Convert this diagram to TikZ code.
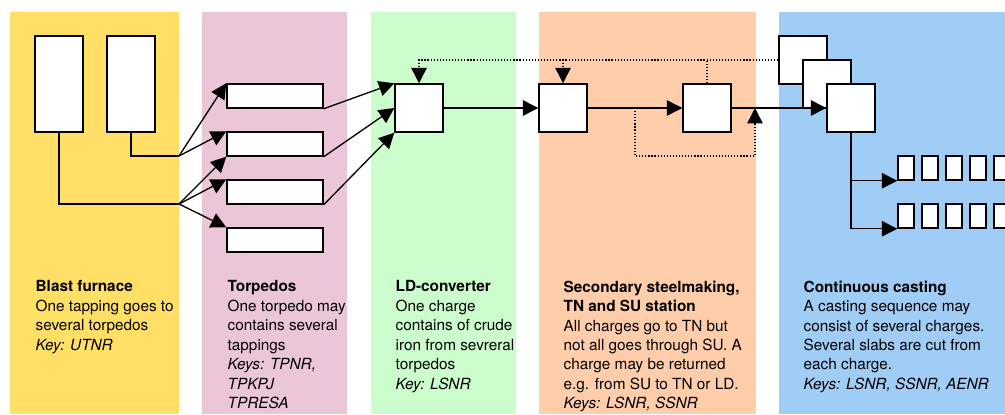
\documentclass[tikz,border=0pt]{standalone}
\usepackage{fontspec}
\setmainfont{TeX Gyre Heros}
\usetikzlibrary{arrows.meta,positioning}
\definecolor{bfyellow}{HTML}{FFDF66}
\definecolor{tppink}{HTML}{EBC6D9}
\definecolor{ldgreen}{HTML}{CCFDCC}
\definecolor{ssorange}{HTML}{FFCDAA}
\definecolor{ccblue}{HTML}{A0CDF6}
\tikzset{x=1mm, y=1mm}
\tikzset{box/.style={draw, fill=white, line width=1.1pt, inner sep=0pt},
  slab/.style={box, minimum width=12pt, minimum height=18pt},
  arr/.style={-{Triangle[length=11.5pt,width=11.5pt]}},
  dots/.style={dash pattern=on 0.9pt off 1.4pt},
  info/.style={anchor=north west, inner sep=0pt, align=left,
    font=\fontsize{11.5}{14.6}\selectfont}}

\begin{document}
\begin{tikzpicture}[x=0.75pt,y=-0.75pt,line width=1pt]
\useasboundingbox (0,0) rectangle (1005,414);
% the five columns
\fill[bfyellow] (10,12) rectangle (179,414);
\fill[tppink] (202,12) rectangle (347,414);
\fill[ldgreen] (371,12) rectangle (516,414);
\fill[ssorange] (539,12) rectangle (756,414);
\fill[ccblue] (779,12) rectangle (1005,414);
% blast furnaces
\node[box, minimum width=36pt, minimum height=72pt] (bfa) at (59,84) {};
\node[box, minimum width=36pt, minimum height=72pt] (bfb) at (131,84) {};
% torpedos
\foreach \n/\y in {a/96,b/144,c/192,d/240}
\node[box, minimum width=72pt, minimum height=18pt] (tp\n) at (275,\y) {};
% converter and stations
\node[box, minimum size=36pt] (ld) at (419,108) {};
\node[box, minimum size=36pt] (tn) at (563,108) {};
\node[box, minimum size=36pt] (su) at (707,108) {};
% casting, three charges
\node[box, minimum size=36pt] (cca) at (803,60) {};
\node[box, minimum size=36pt] (ccb) at (827,84) {};
\node[box, minimum size=36pt] (ccc) at (851,108) {};
\foreach \i/\x in {1/906,2/930,3/954,4/978,5/1002}{ % edit here for the slabs
\node[slab] (sa\i) at (\x,168) {};
\node[slab] (sb\i) at (\x,216) {};}
% tappings to torpedos
\coordinate (ja) at (179,156);
\coordinate (jb) at (179,204);
\draw (bfb.south) |- (ja);
\draw (bfa.south) |- (jb);
\draw[arr] (ja) -- (tpa.north west);
\draw[arr] (ja) -- (tpb.north west);
\draw[arr] (jb) -- (tpb.south west);
\draw[arr] (jb) -- (tpc.north west);
\draw[arr] (jb) -- (tpd.north west);
% torpedos to converter
\draw[arr] (tpa.south east) -- (ld.north west);
\draw[arr] (tpb.south east) -- (ld.west);
\draw[arr] (tpc.south east) -- (ld.south west);
% main flow
\draw[arr] (ld) -- (tn);
\draw[arr] (tn) -- (su);
\draw[arr] (su) -- (ccc);
% returns
\draw[dots,arr] (cca.west) -| (ld.north);
\draw[dots,arr] (tn.north |- cca.west) -- (tn.north);
\draw[dots] (su.north) -- (su.north |- cca.west);
\coordinate (bpa) at (635,108);
\coordinate (bpb) at (755,108);
\draw[dots,arr] (bpa) -- ++(0,48) -| (bpb);
% slabs
\draw[arr] (ccc.south) |- (sa1.south west);
\draw[arr] (ccc.south) |- (sb1.south west);
% texts
\node[info] (bftxt) at (35,280) {\textbf{Blast furnace}\\One tapping goes to\\several torpedos\\\textit{Key: UTNR}};
\node[info] (tptxt) at (227,280) {\textbf{Torpedos}\\One torpedo may\\contains several\\tappings\\\textit{Keys: TPNR,}\\\textit{TPKPJ}\\\textit{TPRESA}};
\node[info] (ldtxt) at (395,280) {\textbf{LD-converter}\\One charge\\contains of crude\\iron from sevreral\\torpedos\\\textit{Key: LSNR}};
\node[info] (sstxt) at (563,280) {\textbf{Secondary steelmaking,}\\\textbf{TN and SU station}\\All charges go to TN but\\not all goes through SU. A\\charge may be returned\\e.g. from SU to TN or LD.\\\textit{Keys: LSNR, SSNR}};
\node[info] (cctxt) at (803,280) {\textbf{Continuous casting}\\A casting sequence may\\consist of several charges.\\Several slabs are cut from\\each charge.\\\textit{Keys: LSNR, SSNR, AENR}};
\end{tikzpicture}
\end{document}
